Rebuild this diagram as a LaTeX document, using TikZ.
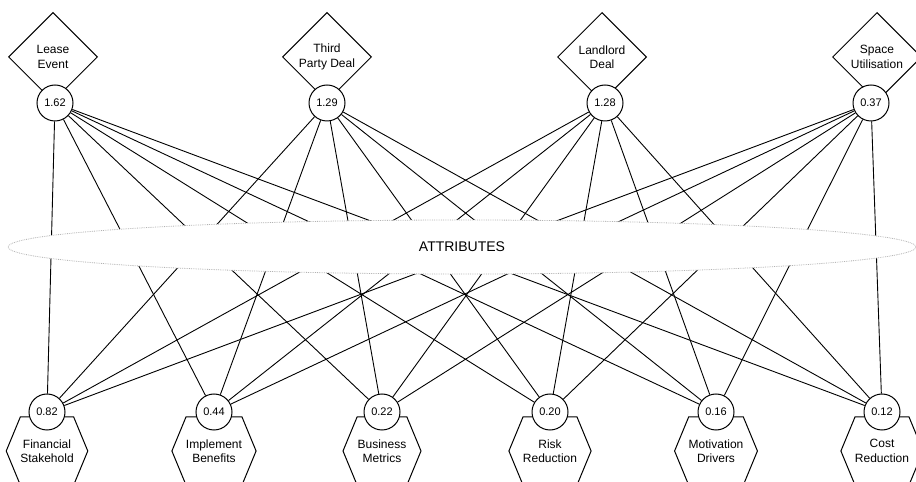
\documentclass[tikz,border=0pt]{standalone}
\usepackage{fontspec}
\setmainfont{Liberation Sans}
\usetikzlibrary{shapes.geometric,shapes.symbols}

\tikzset{
	option/.style={draw,diamond,aspect=1,minimum width=89pt,minimum height=89pt,inner sep=0pt,align=center,line width=1pt,font=\fontsize{12}{14.5}\selectfont},
	score/.style={draw,circle,fill=white,minimum size=36pt,inner sep=0pt,line width=1pt,font=\fontsize{11}{12}\selectfont},
	criterion/.style={draw,signal,signal to=west and east,signal pointer angle=135,minimum width=78pt,minimum height=68pt,inner sep=0pt,align=center,line width=1pt,font=\fontsize{12}{14.5}\selectfont},
	attr/.style={draw=gray!60,densely dotted,ellipse,fill=white,minimum width=908pt,minimum height=54pt,line width=0.8pt,font=\fontsize{14}{16}\selectfont}
}

\begin{document}
\begin{tikzpicture}[-,node distance=46pt,line width=0.9pt]
			\useasboundingbox (0,0) rectangle (916pt,482pt);
			% options
			\node[option] 	(LE) at (53pt,425pt) 			{Lease\\Event};
			\node[option] 	(TP) [right of=LE,xshift=228pt] {Third\\Party Deal};
			\node[option] 	(LD) [right of=TP,xshift=229pt] {Landlord\\Deal};
			\node[option] 	(SU) [right of=LD,xshift=229pt] {Space\\Utilisation};
			\node[score] 	(le) [below of=LE,xshift=2pt] 	{1.62};
			\node[score] 	(tp) [below of=TP] 				{1.29};
			\node[score] 	(ld) [below of=LD,xshift=3pt] 	{1.28};
			\node[score] 	(su) [below of=SU,xshift=-6pt] 	{0.37};

			% criteria
			\node[criterion] (FS) at (47pt,31pt) 			{Financial\\Stakehold};
			\node[criterion] (IB) [right of=FS,xshift=121pt] {Implement\\Benefits};
			\node[criterion] (BM) [right of=IB,xshift=122pt] {Business\\Metrics};
			\node[criterion] (RR) [right of=BM,xshift=122pt] {Risk\\Reduction};
			\node[criterion] (MD) [right of=RR,xshift=120pt] {Motivation\\Drivers};
			\node[criterion] (CR) [right of=MD,xshift=120pt] {Cost\\Reduction};
			\node[score] 	(fs) [above of=FS,yshift=-7pt] 	{0.82};
			\node[score] 	(ib) [above of=IB,yshift=-7pt] 	{0.44};
			\node[score] 	(bm) [above of=BM,yshift=-7pt] 	{0.22};
			\node[score] 	(rr) [above of=RR,yshift=-7pt] 	{0.20};
			\node[score] 	(md) [above of=MD,yshift=-7pt] 	{0.16};
			\node[score] 	(cr) [above of=CR,yshift=-7pt] 	{0.12};

			\path
			(le) edge (fs) edge (ib) edge (bm) edge (rr) edge (md) edge (cr)
			(tp) edge (fs) edge (ib) edge (bm) edge (rr) edge (md) edge (cr)
			(ld) edge (fs) edge (ib) edge (bm) edge (rr) edge (md) edge (cr)
			(su) edge (fs) edge (ib) edge (bm) edge (rr) edge (md) edge (cr);

			\node[attr] (AT) at (462pt,235pt) {ATTRIBUTES};
			\end{tikzpicture}
\end{document}
